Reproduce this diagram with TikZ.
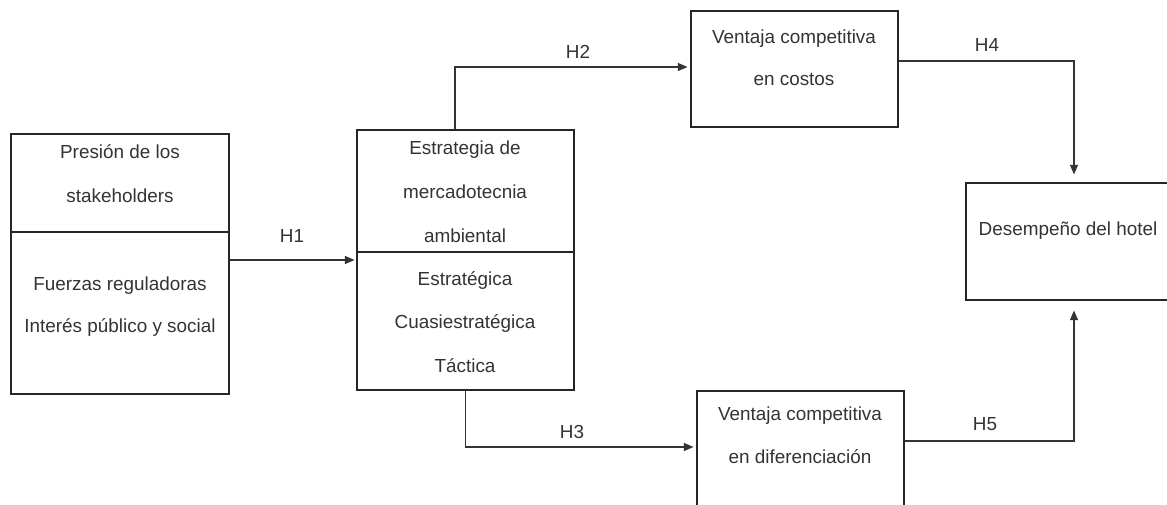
\documentclass[tikz,border=0pt]{standalone}
\usepackage{fontspec}
\setmainfont{Liberation Sans}
\usetikzlibrary{arrows.meta}
\begin{document}
\begin{tikzpicture}[x=1pt,y=-1pt,
  box/.style={draw=black!85,line width=1.1pt,rectangle,inner sep=0pt},
  txt/.style={text=black!80,font=\fontsize{18.9}{22}\selectfont,inner sep=0pt,text height=13.5pt,text depth=3.5pt},
  conn/.style={draw=black!80,line width=1.1pt,-{Triangle[length=9.5pt,width=8pt]}}]
\useasboundingbox (0,0) rectangle (1167,504);
\begin{scope}
\clip (0,0) rectangle (1167,504);
% boxes
\node[box,minimum width=218pt,minimum height=260pt] (A) at (120,264) {};
\node[box,minimum width=217pt,minimum height=260pt] (B) at (465.5,260) {};
\node[box,minimum width=207pt,minimum height=116pt] (C) at (794.5,69) {};
\node[box,minimum width=234pt,minimum height=117pt] (D) at (1083,241.5) {};
\node[box,minimum width=207pt,minimum height=129pt] (E) at (800.5,455.5) {};
\end{scope}
% dividers
\coordinate (a1) at (11,232);
\coordinate (a2) at (229,232);
\coordinate (b1) at (357,252);
\coordinate (b2) at (574,252);
\draw[black!85,line width=1.1pt] (a1) -- (a2);
\draw[black!85,line width=1.1pt] (b1) -- (b2);
% texts
\node[txt] (ta1) at (120,153) {Presión de los};
\node[txt] (ta2) at (120,197) {stakeholders};
\node[txt] (ta3) at (120,285) {Fuerzas reguladoras};
\node[txt] (ta4) at (120,327) {Interés público y social};
\node[txt] (tb1) at (465,149) {Estrategia de};
\node[txt] (tb2) at (465,193) {mercadotecnia};
\node[txt] (tb3) at (465,237) {ambiental};
\node[txt] (tb4) at (465,280) {Estratégica};
\node[txt] (tb5) at (465,323) {Cuasiestratégica};
\node[txt] (tb6) at (465,367) {Táctica};
\node[txt] (tc1) at (794,38) {Ventaja competitiva};
\node[txt] (tc2) at (794,80) {en costos};
\node[txt] (td1) at (1068,230) {Desempeño del hotel};
\node[txt] (te1) at (800,415) {Ventaja competitiva};
\node[txt] (te2) at (800,458) {en diferenciación};
% labels
\node[txt] (h1) at (292,237) {H1};
\node[txt] (h2) at (578,53) {H2};
\node[txt] (h3) at (572,433) {H3};
\node[txt] (h4) at (987,46) {H4};
\node[txt] (h5) at (985,425) {H5};
% connectors
\draw[conn,shorten >=2pt] (A.east |- B.west) -- (B.west);
\draw[conn,shorten >=3pt] ([xshift=-10.5pt]B.north) |- ([yshift=2pt]C.west);
\draw[conn,shorten >=3pt] (B.south) |- ([yshift=8.5pt]E.west);
\draw[conn,shorten >=8pt] ([yshift=8pt]C.east) -| ([xshift=-9pt]D.north);
\draw[conn,shorten >=10pt] ([yshift=14.5pt]E.east) -| ([xshift=-9pt]D.south);
\end{tikzpicture}
\end{document}
